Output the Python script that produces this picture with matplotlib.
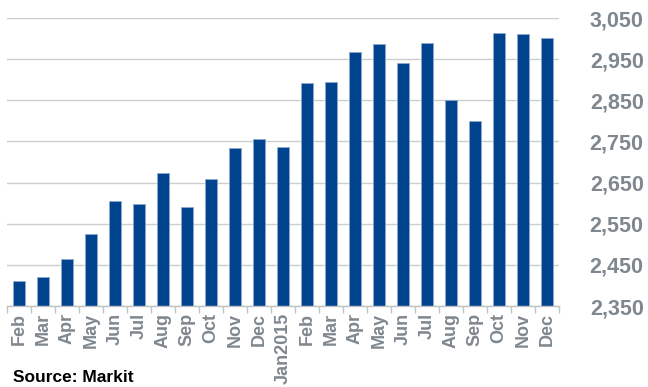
import matplotlib
matplotlib.use("Agg")
import matplotlib.pyplot as plt
import numpy as np
from matplotlib.ticker import FuncFormatter, FixedLocator

months = ["Feb", "Mar", "Apr", "May", "Jun", "Jul", "Aug", "Sep", "Oct", "Nov", "Dec",
          "Jan2015", "Feb", "Mar", "Apr", "May", "Jun", "Jul", "Aug", "Sep", "Oct", "Nov", "Dec"]
values = [2411, 2420, 2464, 2524, 2604, 2598, 2673, 2591, 2659, 2734, 2755,
          2736, 2891, 2894, 2967, 2986, 2940, 2990, 2850, 2799, 3014, 3011, 3001]
yticks = [2350, 2450, 2550, 2650, 2750, 2850, 2950, 3050]

plt.rcParams['font.family'] = ['Liberation Sans', 'DejaVu Sans']
gray = '#7F878F'
bar_color = '#00438F'

fig = plt.figure(figsize=(6.48, 3.87), dpi=100)
ax = fig.add_axes([7/648, 1-306/387, (559-7)/648, (306-18)/387])

x = np.arange(len(months))
ax.bar(x, values, width=0.52, color=bar_color, edgecolor='#8FA8CC', linewidth=0.6, zorder=3)

ax.set_xlim(-0.5, len(months)-0.5)
ax.set_ylim(yticks[0], yticks[-1])
ax.set_yticks(yticks)
ax.yaxis.set_major_formatter(FuncFormatter(lambda v, p: f"{int(v):,}"))
ax.yaxis.tick_right()
ax.tick_params(axis='y', length=0, pad=61, labelsize=15.5, labelcolor=gray)
for lab in ax.get_yticklabels():
    lab.set_fontweight('bold')
    lab.set_horizontalalignment('right')
ax.grid(axis='y', color='#CBCED1', linewidth=1.0, zorder=0)

ax.set_xticks(x)
ax.set_xticklabels(months, rotation=90, fontsize=13, fontweight='bold', color=gray)
ax.tick_params(axis='x', which='major', length=0, pad=5)
ax.xaxis.set_minor_locator(FixedLocator(np.arange(-0.5, len(months), 1.0)))
ax.tick_params(axis='x', which='minor', length=5, width=1, color='#BFC3C7', direction='out')

for s in ['left', 'right', 'top']:
    ax.spines[s].set_visible(False)
ax.spines['bottom'].set_color('#BFC3C7')
ax.spines['bottom'].set_linewidth(1)
ax.spines['bottom'].set_zorder(4)

fig.text(13/648, 2/387, "Source: Markit", fontsize=12.5, fontweight='bold', color='black',
         ha='left', va='bottom')

fig.savefig("out.png", dpi=100)
